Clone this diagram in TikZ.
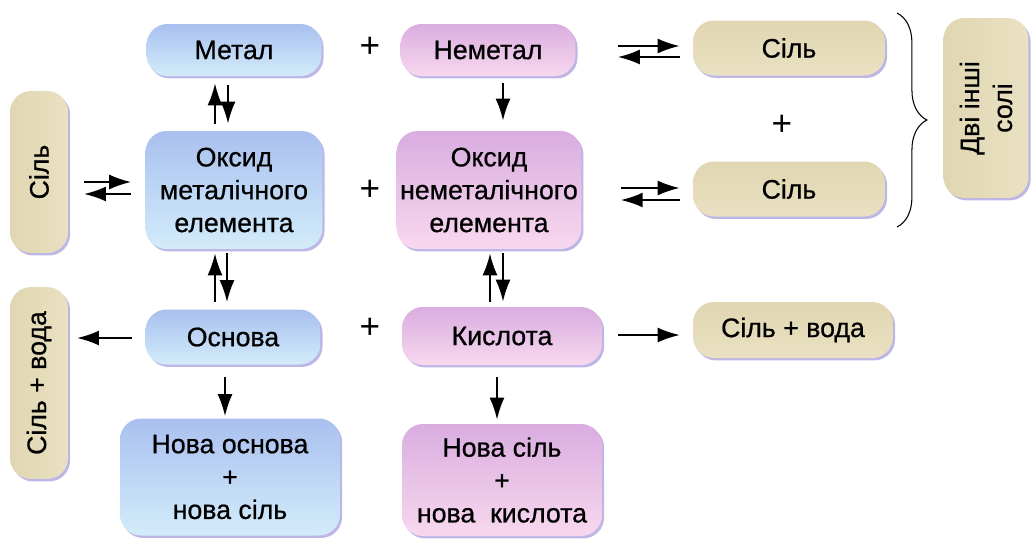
\documentclass[tikz,border=0pt]{standalone}
\usepackage{fontspec}
\setmainfont{Liberation Sans}[FakeBold=0.7]
\newfontfamily\plainfont{Liberation Sans}
\usetikzlibrary{arrows.meta,shadows,calc,decorations.pathreplacing}
\definecolor{bTop}{HTML}{A9C0EF}
\definecolor{bBot}{HTML}{D2ECFA}
\definecolor{pTop}{HTML}{D9ADE0}
\definecolor{pBot}{HTML}{F8D8EE}
\definecolor{yTop}{HTML}{E0D6B2}
\definecolor{yMid}{HTML}{FBF7E0}
\definecolor{yBot}{HTML}{E9E1C2}
\definecolor{shadowc}{HTML}{6E5FC8}
\begin{document}
\begin{tikzpicture}[x=0.02cm,y=-0.02cm,
  box/.style={rounded corners=0.42cm, align=center, inner sep=2pt,
    font=\fontsize{15.2}{18.7}\selectfont,
    drop shadow={shadow xshift=1.2pt, shadow yshift=-1.4pt, fill=shadowc, opacity=0.45}},
  bluebox/.style={box, top color=bTop, bottom color=bBot},
  pinkbox/.style={box, top color=pTop, bottom color=pBot},
  beigebox/.style={box, top color=yTop, middle color=yMid, bottom color=yBot},
  arr/.style={line width=1.15pt, -{Latex[length=12.5pt,width=8.5pt]}},
  plus/.style={font=\plainfont\fontsize{20}{24}\selectfont, inner sep=0pt},
  bracestyle/.style={line width=0.6pt, decorate, decoration={brace, amplitude=17pt}}
]
\useasboundingbox (0,0) rectangle (1032,539);

% top row
\node[bluebox, minimum width=3.5cm, minimum height=1.04cm] (met) at (234,50) {Метал};
\node[pinkbox, minimum width=3.5cm, minimum height=1.04cm] (nmet) at (488,50) {Неметал};
\node[beigebox, minimum width=3.84cm, minimum height=1.1cm] (s1) at (789,48) {Сіль};
\node[beigebox, minimum width=3.84cm, minimum height=1.1cm] (s2) at (789,189) {Сіль};
\node[beigebox, rotate=90, minimum width=3.6cm, minimum height=1.7cm, shading angle=90] (dvi) at (986,108) {Дві інші\\солі};

% middle row
\node[bluebox, minimum width=3.54cm, minimum height=2.36cm] (ox1) at (234,190) {Оксид\\металічного\\елемента};
\node[pinkbox, minimum width=3.56cm, minimum height=2.36cm] (ox2) at (489,190) {Оксид\\неметалічного\\елемента};

% third row
\node[bluebox, minimum width=3.5cm, minimum height=1.1cm] (osn) at (233,337) {Основа};
\node[pinkbox, minimum width=4.0cm, minimum height=1.16cm] (kys) at (502,336) {Кислота};
\node[beigebox, minimum width=4.0cm, minimum height=1.12cm] (sv) at (793,330) {Сіль + вода};

% bottom row
\node[bluebox, minimum width=4.4cm, minimum height=2.34cm] (nb) at (230,477) {Нова основа\\+\\нова сіль};
\node[pinkbox, minimum width=4.0cm, minimum height=2.24cm] (ns) at (502,480) {Нова сіль\\+\\нова~ кислота};

% left vertical boxes
\node[beigebox, rotate=90, minimum width=3.24cm, minimum height=1.16cm, shading angle=90] (lsl) at (39,172) {Сіль};
\node[beigebox, rotate=90, minimum width=3.84cm, minimum height=1.16cm, shading angle=90] (lsv) at (39,383) {Сіль + вода};

% plus signs
\node[plus] (p1) at (370,47) {+};
\node[plus] (p2) at (370,190) {+};
\node[plus] (p3) at (370,328) {+};
\node[plus] (p4) at (782,125) {+};

% brace
\coordinate (bt) at (897,13);
\coordinate (bb) at (897,227);
\draw[bracestyle] (bt) -- (bb);

% left equilibrium Сіль <-> Оксид
\draw[arr] ($(lsl.center)+(45,10)$) -- ($(ox1.west)+(-14,-8)$);
\draw[arr] ($(ox1.west)+(-14,4)$) -- ($(lsl.center)+(45,22)$);

% right equilibria
\draw[arr] ($(nmet.east)+(42,-4)$) -- ($(s1.west)+(-13,-2)$);
\draw[arr] ($(s1.west)+(-13,9)$) -- ($(nmet.east)+(42,7)$);
\draw[arr] ($(ox2.east)+(39,-2)$) -- ($(s2.west)+(-13,-1)$);
\draw[arr] ($(s2.west)+(-13,11)$) -- ($(ox2.east)+(39,10)$);

% vertical Метал <-> Оксид
\draw[arr] ($(ox1.north)+(-19,-7)$) -- ($(met.south)+(-19,7)$);
\draw[arr] ($(met.south)+(-6,9)$) -- ($(ox1.north)+(-6,-7)$);

% Неметал -> Оксид
\draw[arr] ($(nmet.south)+(15,7)$) -- ($(ox2.north)+(14,-10)$);

% Оксид <-> Основа
\draw[arr] ($(osn.north)+(-18,-7)$) -- ($(ox1.south)+(-19,4)$);
\draw[arr] ($(ox1.south)+(-7,4)$) -- ($(osn.north)+(-6,-7)$);

% Оксид <-> Кислота
\draw[arr] ($(kys.north)+(-12,-5)$) -- ($(ox2.south)+(1,4)$);
\draw[arr] ($(ox2.south)+(14,4)$) -- ($(kys.north)+(1,-5)$);

% Основа -> Сіль + вода (left)
\draw[arr] ($(osn.west)+(-13,1)$) -- ($(lsv.center)+(38,-45)$);

% Кислота -> Сіль + вода (right)
\draw[arr, line width=0.9pt] ($(kys.east)+(16,-1)$) -- ($(sv.west)+(-13,5)$);

% downward arrows
\draw[arr] ($(osn.south)+(-8,12)$) -- ($(nb.north)+(-5,-2)$);
\draw[arr] ($(kys.south)+(-5,12)$) -- ($(ns.north)+(-5,-4)$);
\end{tikzpicture}
\end{document}
